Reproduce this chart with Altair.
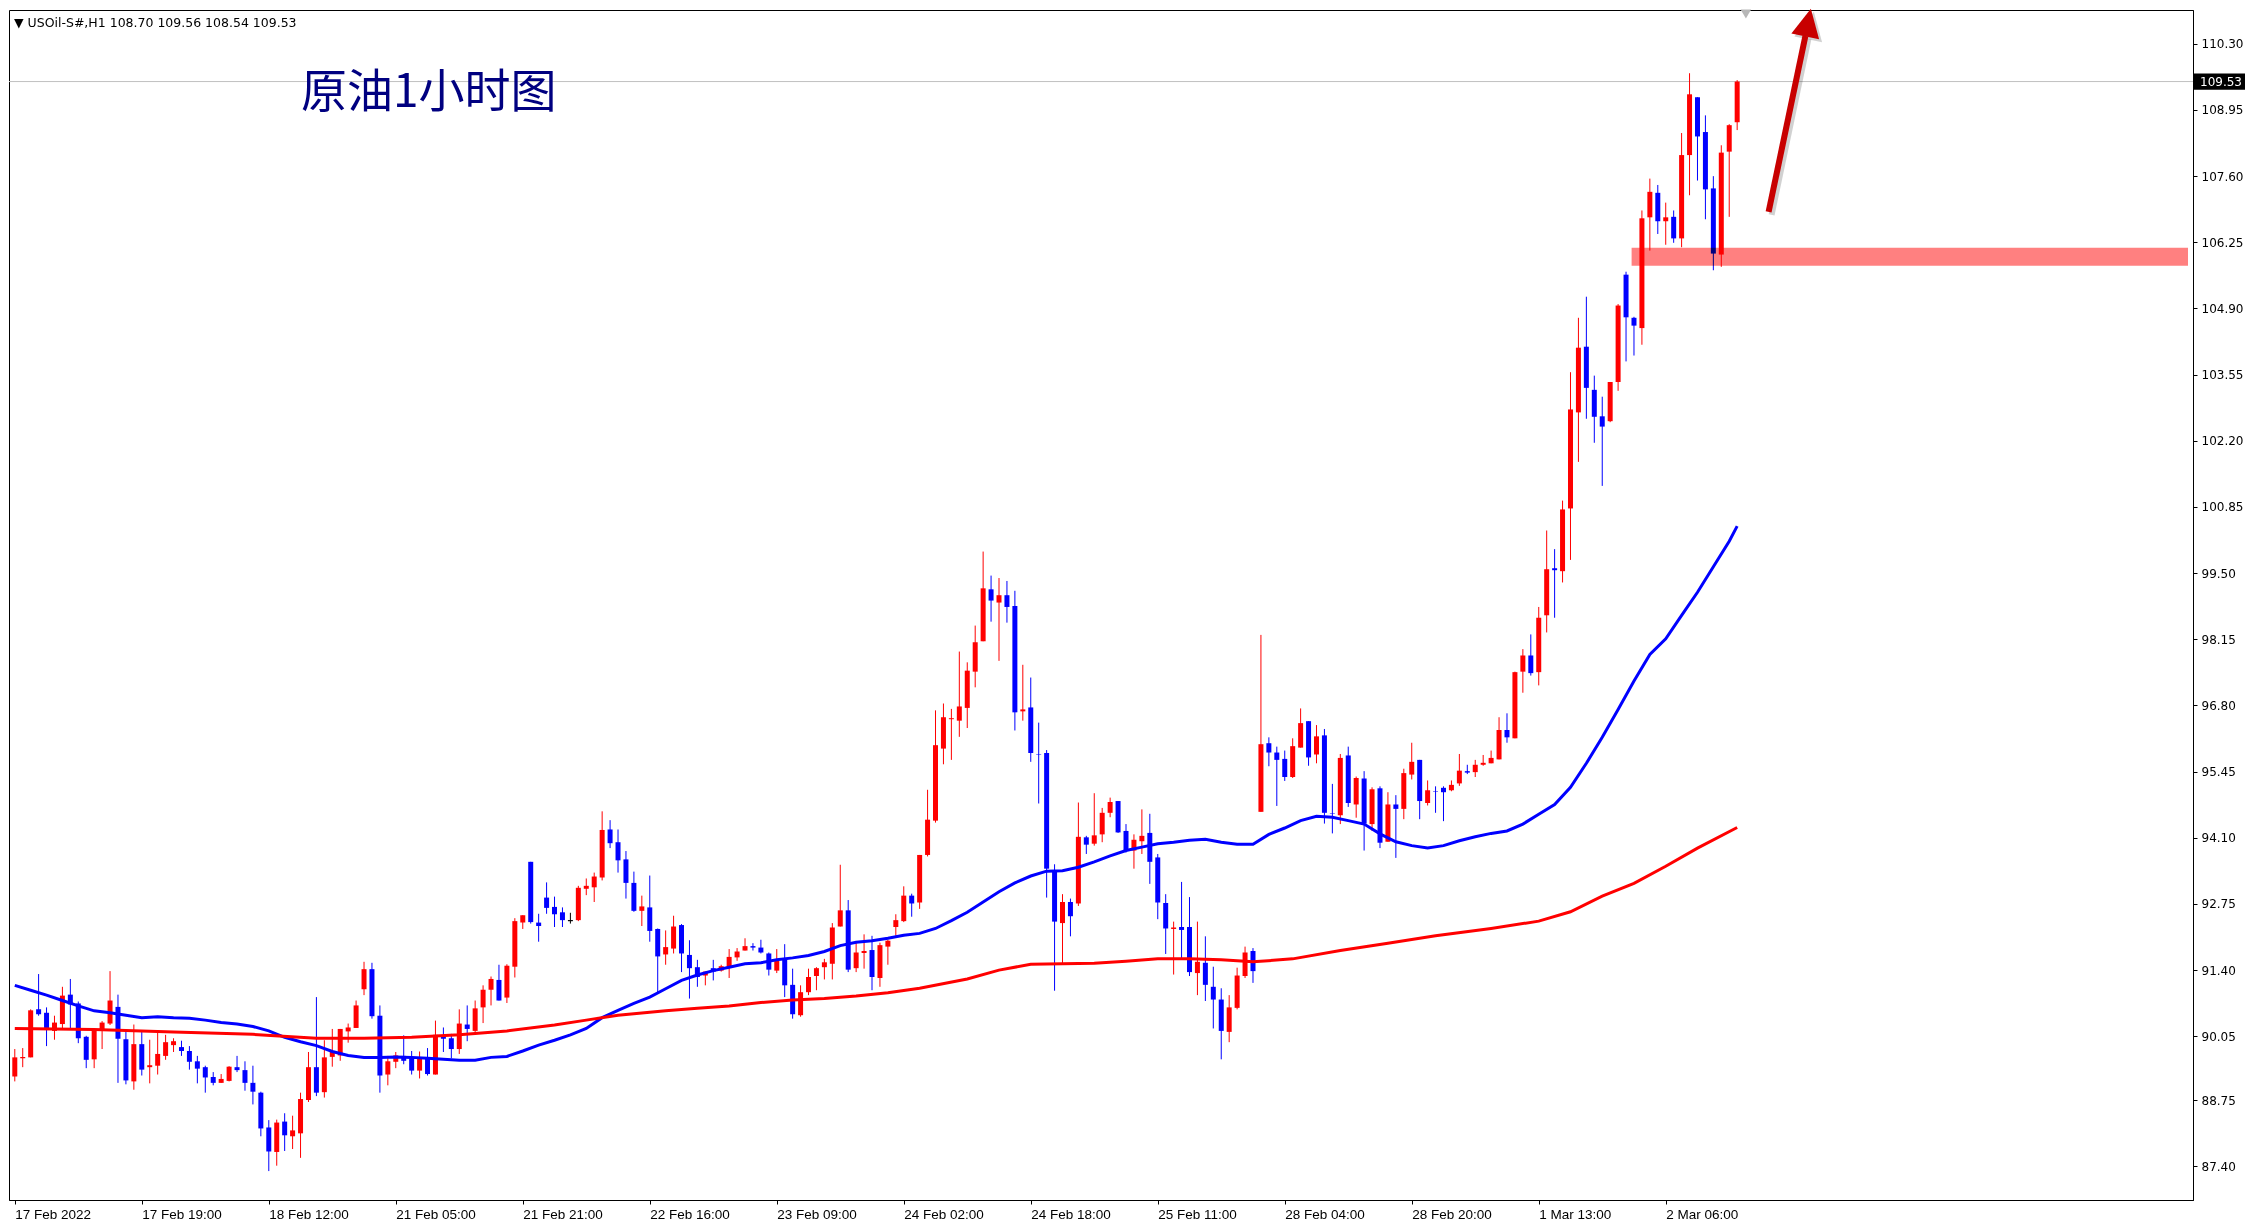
import altair as alt
import pandas as pd
import json

# ---------------- data ----------------
bar_open = [
    89.23, 89.60, 89.62, 90.60, 90.53, 90.16, 90.30, 90.90, 90.72, 90.04,
    89.58, 90.16, 90.31, 90.65, 89.99, 89.13, 89.89, 89.42, 89.45, 89.65,
    89.87, 89.83, 89.75, 89.54, 89.42, 89.22, 89.10, 89.14, 89.42, 89.36,
    89.10, 88.90, 88.19, 87.69, 88.31, 88.01, 88.07, 88.75, 89.42, 88.91,
    89.63, 89.66, 90.15, 90.22, 91.01, 91.42, 90.47, 89.27, 89.53, 89.65,
    89.60, 89.35, 89.62, 89.27, 90.06, 90.01, 89.79, 90.29, 90.16, 90.64,
    91.00, 91.20, 90.84, 91.47, 92.37, 93.61, 92.37, 92.88, 92.69, 92.58,
    92.41, 92.42, 93.06, 93.09, 93.29, 94.27, 94.01, 93.66, 93.18, 92.61,
    92.68, 92.24, 91.72, 91.84, 92.32, 91.71, 91.46, 91.29, 91.44, 91.39,
    91.46, 91.66, 91.80, 91.89, 91.86, 91.74, 91.39, 91.64, 91.10, 90.48,
    90.95, 91.28, 91.46, 91.53, 92.29, 92.62, 91.44, 91.75, 91.81, 91.24,
    91.88, 92.28, 92.40, 92.92, 92.78, 93.75, 94.45, 95.92, 96.52, 96.49,
    96.75, 97.49, 98.11, 99.17, 98.90, 99.05, 98.83, 96.68, 96.76, 95.81,
    95.83, 93.42, 92.36, 92.79, 92.76, 94.11, 93.98, 94.17, 94.61, 94.85,
    94.24, 93.84, 94.03, 94.20, 93.70, 92.77, 92.24, 92.28, 92.28, 91.34,
    91.55, 91.06, 90.80, 90.14, 90.63, 91.28, 91.79, 94.63, 96.03, 95.84,
    95.71, 95.34, 95.94, 96.48, 95.80, 96.19, 94.60, 94.56, 95.78, 94.78,
    95.31, 94.38, 95.11, 94.02, 94.78, 94.69, 95.39, 95.69, 94.81, 95.05,
    95.12, 95.07, 95.21, 95.46, 95.44, 95.59, 95.62, 95.70, 96.30, 96.13,
    97.49, 97.82, 97.48, 98.64, 99.60, 99.54, 100.82, 102.78, 104.12, 103.24,
    102.70, 102.60, 103.40, 105.59, 104.71, 104.50, 106.76, 107.26, 106.68, 106.77,
    106.33, 108.03, 109.21, 108.50, 107.35, 106.00, 108.10, 108.70,
]
bar_high = [
    89.79, 89.81, 90.60, 91.32, 90.64, 90.47, 91.06, 91.22, 90.76, 90.06,
    90.18, 90.36, 91.38, 90.90, 90.14, 90.29, 90.14, 89.98, 90.14, 90.08,
    90.01, 89.96, 89.85, 89.65, 89.45, 89.32, 89.28, 89.44, 89.65, 89.54,
    89.45, 88.92, 88.34, 88.35, 88.48, 88.43, 88.90, 89.73, 90.85, 89.97,
    90.20, 90.20, 90.31, 90.78, 91.57, 91.55, 90.68, 89.65, 89.73, 90.07,
    89.75, 89.74, 89.81, 90.37, 90.23, 90.10, 90.60, 90.68, 90.78, 91.09,
    91.27, 91.51, 91.52, 92.46, 92.52, 93.61, 92.55, 93.19, 92.90, 92.68,
    92.57, 93.12, 93.27, 93.39, 94.64, 94.46, 94.27, 93.83, 93.41, 92.92,
    93.33, 92.25, 92.21, 92.51, 92.34, 92.01, 91.61, 91.37, 91.61, 91.51,
    91.83, 91.85, 92.05, 91.95, 92.02, 91.76, 91.83, 91.93, 91.43, 91.09,
    91.43, 91.46, 91.63, 92.36, 93.55, 92.83, 91.97, 92.13, 92.10, 91.96,
    92.02, 92.54, 93.11, 92.96, 93.75, 95.08, 96.70, 96.84, 96.73, 97.90,
    97.68, 98.43, 99.94, 99.45, 99.40, 99.34, 99.14, 97.63, 97.37, 96.45,
    95.89, 93.56, 92.95, 92.86, 94.82, 94.14, 95.01, 94.71, 94.92, 94.85,
    94.38, 94.17, 94.68, 94.59, 93.77, 92.95, 92.39, 93.20, 92.89, 92.39,
    92.09, 91.47, 91.03, 90.89, 91.45, 91.88, 91.85, 98.24, 96.15, 95.96,
    95.88, 96.13, 96.74, 96.48, 96.40, 96.32, 95.20, 95.81, 95.96, 95.35,
    95.46, 95.13, 95.15, 95.03, 94.97, 95.51, 96.04, 95.69, 95.27, 95.15,
    95.15, 95.27, 95.81, 95.59, 95.69, 95.79, 95.88, 96.56, 96.64, 97.49,
    97.95, 98.25, 98.81, 100.37, 99.99, 100.98, 103.60, 104.71, 105.14, 103.53,
    103.10, 103.40, 104.99, 105.65, 104.73, 106.90, 107.55, 107.42, 107.06, 106.90,
    108.48, 109.70, 109.21, 108.84, 107.60, 108.23, 108.66, 109.56,
]
bar_low = [
    89.13, 89.42, 89.62, 90.47, 89.85, 89.98, 90.21, 90.21, 89.91, 89.40,
    89.40, 89.79, 90.28, 89.10, 89.07, 88.96, 89.25, 89.09, 89.27, 89.57,
    89.73, 89.65, 89.37, 89.09, 88.90, 89.05, 89.10, 89.13, 89.32, 88.94,
    88.66, 88.01, 87.30, 87.41, 87.71, 87.75, 87.57, 88.71, 88.83, 88.80,
    89.43, 89.55, 89.92, 90.22, 90.89, 90.41, 88.90, 89.05, 89.40, 89.48,
    89.27, 89.19, 89.25, 89.27, 89.73, 89.60, 89.69, 89.95, 90.11, 90.32,
    90.68, 90.78, 90.73, 91.25, 92.24, 92.35, 91.98, 92.55, 92.28, 92.28,
    92.35, 92.40, 92.93, 92.79, 93.23, 93.89, 93.39, 92.86, 92.59, 92.30,
    91.98, 90.95, 91.51, 91.74, 91.36, 90.82, 91.06, 91.09, 91.19, 91.37,
    91.24, 91.59, 91.80, 91.80, 91.74, 91.29, 91.34, 90.85, 90.41, 90.45,
    90.89, 90.99, 91.21, 91.21, 92.29, 91.36, 91.36, 91.43, 90.99, 91.06,
    91.51, 92.10, 92.38, 92.49, 92.65, 93.72, 94.41, 95.60, 95.69, 96.16,
    96.34, 97.17, 98.11, 98.51, 97.71, 98.49, 96.29, 96.49, 95.65, 94.80,
    92.88, 90.98, 91.54, 92.09, 92.71, 93.77, 93.94, 94.01, 94.52, 94.20,
    93.80, 93.47, 93.77, 93.16, 92.44, 91.73, 91.31, 91.64, 91.28, 90.89,
    90.77, 90.21, 89.58, 89.93, 90.60, 91.24, 91.14, 94.63, 95.56, 94.75,
    95.26, 95.32, 95.94, 95.57, 95.62, 94.39, 94.19, 94.38, 94.73, 94.51,
    93.84, 94.24, 93.89, 94.02, 93.69, 94.48, 95.29, 94.48, 94.76, 94.61,
    94.44, 95.05, 95.16, 95.40, 95.34, 95.57, 95.62, 95.70, 96.04, 96.13,
    97.06, 97.41, 97.21, 98.29, 98.59, 99.31, 99.77, 101.77, 102.65, 102.16,
    101.28, 102.58, 103.22, 103.82, 103.94, 104.16, 106.08, 106.42, 106.20, 106.24,
    106.15, 107.21, 107.51, 106.72, 105.68, 105.75, 106.77, 108.54,
]
bar_close = [
    89.62, 89.63, 90.58, 90.50, 90.22, 90.33, 90.88, 90.70, 90.01, 89.57,
    90.18, 90.33, 90.78, 90.00, 89.15, 89.89, 89.37, 89.46, 89.69, 89.93,
    89.95, 89.75, 89.53, 89.39, 89.21, 89.10, 89.18, 89.43, 89.36, 89.10,
    88.92, 88.17, 87.70, 88.29, 88.03, 88.13, 88.77, 89.42, 88.90, 89.62,
    89.73, 90.20, 90.23, 90.68, 91.42, 90.46, 89.25, 89.54, 89.66, 89.55,
    89.35, 89.59, 89.28, 90.08, 90.00, 89.79, 90.31, 90.20, 90.62, 91.00,
    91.22, 90.78, 91.49, 92.40, 92.52, 92.38, 92.30, 92.67, 92.54, 92.42,
    92.41, 93.08, 93.12, 93.31, 94.26, 93.99, 93.64, 93.18, 92.61, 92.70,
    92.20, 91.68, 91.87, 92.29, 91.74, 91.44, 91.26, 91.37, 91.37, 91.48,
    91.67, 91.78, 91.89, 91.86, 91.76, 91.41, 91.59, 91.09, 90.50, 90.95,
    91.26, 91.44, 91.56, 92.27, 92.62, 91.41, 91.76, 91.79, 91.26, 91.91,
    92.00, 92.42, 92.92, 92.76, 93.75, 94.47, 95.99, 96.56, 96.54, 96.78,
    97.51, 98.09, 99.19, 98.94, 99.05, 98.81, 96.66, 96.72, 95.83, 95.80,
    93.47, 92.39, 92.79, 92.50, 94.12, 93.96, 94.15, 94.61, 94.83, 94.21,
    93.84, 94.06, 94.14, 93.61, 92.78, 92.25, 92.27, 92.22, 91.36, 91.57,
    91.10, 90.80, 90.16, 90.64, 91.29, 91.76, 91.38, 96.01, 95.84, 95.69,
    95.34, 95.97, 96.44, 95.74, 96.17, 94.61, 94.59, 95.73, 94.81, 95.32,
    94.39, 95.09, 94.00, 94.78, 94.69, 95.42, 95.65, 94.85, 95.07, 95.04,
    95.03, 95.18, 95.47, 95.43, 95.59, 95.63, 95.73, 96.30, 96.15, 97.48,
    97.82, 97.46, 98.59, 99.58, 99.56, 100.80, 102.84, 104.10, 103.28, 102.69,
    102.49, 103.40, 104.96, 104.72, 104.55, 106.74, 107.28, 106.68, 106.76, 106.33,
    108.03, 109.27, 108.41, 107.33, 106.02, 108.08, 108.64, 109.53,
]
bar_index = list(range(len(bar_open)))

# moving averages (bar position, price)
ma_fast_x = [0, 2, 4, 6, 8, 10, 12, 14, 16, 18, 20, 22, 24, 26, 28, 30, 32, 34, 36, 38,
             40, 42, 44, 46, 48, 50, 52, 54, 56, 58, 60, 62, 64, 66, 68, 70, 72, 74, 76, 78,
             80, 82, 84, 86, 88, 90, 92, 94, 96, 98, 100, 102, 104, 106, 108, 110, 112, 114,
             116, 118, 120, 122, 124, 126, 128, 130, 132, 134, 136, 138, 140, 142, 144, 146,
             148, 150, 152, 154, 156, 158, 160, 162, 164, 166, 168, 170, 172, 174, 176, 178,
             180, 182, 184, 186, 188, 190, 192, 194, 196, 198, 200, 202, 204, 206, 208, 210,
             212, 214, 216, 217]
ma_fast_y = [91.09, 90.99, 90.89, 90.78, 90.67, 90.57, 90.53, 90.48, 90.43, 90.45,
             90.43, 90.42, 90.38, 90.33, 90.30, 90.25, 90.16, 90.03, 89.94, 89.86,
             89.74, 89.66, 89.62, 89.62, 89.63, 89.62, 89.60, 89.58, 89.56, 89.56,
             89.62, 89.64, 89.75, 89.87, 89.97, 90.08, 90.21, 90.43, 90.58, 90.72,
             90.85, 91.02, 91.19, 91.30, 91.39, 91.46, 91.53, 91.55, 91.61, 91.65,
             91.70, 91.78, 91.90, 91.97, 92.00, 92.05, 92.11, 92.15, 92.25, 92.41,
             92.58, 92.79, 93.00, 93.18, 93.32, 93.42, 93.43, 93.50, 93.61, 93.73,
             93.84, 93.91, 93.98, 94.01, 94.05, 94.07, 94.01, 93.97, 93.97, 94.17,
             94.30, 94.45, 94.54, 94.52, 94.45, 94.38, 94.18, 94.02, 93.94, 93.89,
             93.94, 94.04, 94.12, 94.19, 94.24, 94.38, 94.58, 94.78, 95.13, 95.62,
             96.15, 96.72, 97.30, 97.84, 98.16, 98.64, 99.11, 99.63, 100.15, 100.46]
ma_slow_x = [0, 10, 20, 30, 38, 44, 50, 56, 62, 68, 72, 76, 82, 86, 90, 94, 98, 102, 106,
             110, 114, 120, 124, 128, 132, 136, 140, 144, 148, 152, 156, 161, 167, 173, 179,
             186, 192, 196, 200, 204, 208, 212, 217]
ma_slow_y = [90.21, 90.19, 90.14, 90.09, 90.01, 90.01, 90.03, 90.08, 90.16, 90.28, 90.38,
             90.48, 90.57, 90.62, 90.67, 90.74, 90.79, 90.82, 90.87, 90.94, 91.03, 91.22,
             91.40, 91.52, 91.53, 91.54, 91.58, 91.63, 91.63, 91.61, 91.57, 91.63, 91.80,
             91.95, 92.10, 92.25, 92.40, 92.59, 92.91, 93.17, 93.52, 93.89, 94.31]

x_tick_values = [0, 16, 32, 48, 64, 80, 96, 112, 128, 144, 160, 176, 192, 208]
x_tick_labels = ["17 Feb 2022", "17 Feb 19:00", "18 Feb 12:00", "21 Feb 05:00",
                 "21 Feb 21:00", "22 Feb 16:00", "23 Feb 09:00", "24 Feb 02:00",
                 "24 Feb 18:00", "25 Feb 11:00", "28 Feb 04:00", "28 Feb 20:00",
                 "1 Mar 13:00", "2 Mar 06:00"]
y_tick_values = [110.30, 108.95, 107.60, 106.25, 104.90, 103.55, 102.20, 100.85, 99.50,
                 98.15, 96.80, 95.45, 94.10, 92.75, 91.40, 90.05, 88.75, 87.40]

zone_x = [203.7, 273.8]
zone_y = [105.77, 106.14]
arrow_x = [220.96, 225.6]
arrow_y = [106.87, 110.46]
arrow_head_x = [225.93]
arrow_head_y = [110.735]
shift_marker_x = [218.1]
last_price = [109.53]
header_text = ["\u25bc USOil-S#,H1  108.70 109.56 108.54 109.53"]
title_text = ["原油1小时图"]

# ---------------- chart ----------------
W, H = 2184, 1190
X_DOMAIN = [-0.1, 273.8]
Y_DOMAIN = [86.71, 110.99]

xscale = alt.Scale(domain=X_DOMAIN, nice=False, zero=False)
yscale = alt.Scale(domain=Y_DOMAIN, nice=False, zero=False)

labels_js = json.dumps(x_tick_labels)
values_js = json.dumps(x_tick_values)
xaxis = alt.Axis(values=x_tick_values,
                 labelExpr=f"{labels_js}[indexof({values_js}, datum.value)]",
                 labelAlign="left", labelFont="Liberation Sans", labelFontSize=13.5,
                 labelColor="black", tickColor="black", tickSize=4, domainColor="black",
                 grid=False, labelPadding=3, labelFlush=False, labelOverlap=False)
yaxis = alt.Axis(orient="right", values=y_tick_values, format=".2f",
                 labelFont="DejaVu Sans", labelFontSize=12, labelColor="black",
                 tickColor="black", tickSize=4, domainColor="black", grid=False,
                 labelPadding=4, labelOverlap=False)


def X(field):
    return alt.X(f"{field}:Q", scale=xscale, axis=xaxis, title=None)


def Y(field):
    return alt.Y(f"{field}:Q", scale=yscale, axis=yaxis, title=None)


candles = pd.DataFrame({"i": bar_index, "o": bar_open, "h": bar_high,
                        "l": bar_low, "c": bar_close})
dir_expr = "datum.c > datum.o ? 'up' : (datum.c < datum.o ? 'down' : 'flat')"
color_enc = alt.Color("dir:N", scale=alt.Scale(domain=["up", "down", "flat"],
                                              range=["#FF0000", "#0000FF", "#000000"]),
                      legend=None)

price_line = alt.Chart(pd.DataFrame({"p": last_price})).mark_rule(
    color="#C0C0C0", strokeWidth=1).encode(y=Y("p"))

wicks = alt.Chart(candles).transform_calculate(dir=dir_expr).mark_rule(
    strokeWidth=1).encode(x=X("i"), y=Y("l"), y2=alt.Y2("h:Q"), color=color_enc)

bodies = alt.Chart(candles).transform_calculate(
    dir=dir_expr,
    bot="datum.o == datum.c ? datum.o - 0.012 : min(datum.o, datum.c)",
    top="datum.o == datum.c ? datum.o + 0.012 : max(datum.o, datum.c)",
).mark_bar(size=5).encode(x=X("i"), y=Y("bot"), y2=alt.Y2("top:Q"), color=color_enc)

ma_fast = alt.Chart(pd.DataFrame({"i": ma_fast_x, "p": ma_fast_y})).mark_line(
    color="#0000FF", strokeWidth=3).encode(x=X("i"), y=Y("p"))
ma_slow = alt.Chart(pd.DataFrame({"i": ma_slow_x, "p": ma_slow_y})).mark_line(
    color="#FF0000", strokeWidth=3).encode(x=X("i"), y=Y("p"))

zone = alt.Chart(pd.DataFrame({"x1": [zone_x[0]], "x2": [zone_x[1]],
                               "y1": [zone_y[0]], "y2": [zone_y[1]]})).mark_rect(
    color="#FF8080", blend="multiply").encode(
    x=X("x1"), x2=alt.X2("x2:Q"), y=Y("y1"), y2=alt.Y2("y2:Q"))

arrow_df = pd.DataFrame({"x1": [arrow_x[0]], "x2": [arrow_x[1]],
                         "y1": [arrow_y[0]], "y2": [arrow_y[1]]})
head_df = pd.DataFrame({"i": arrow_head_x, "p": arrow_head_y})
head_shape = "M0,-1L1,1L-1,1Z"
arrow_shadow = alt.Chart(arrow_df).mark_rule(
    color="#000000", opacity=0.18, strokeWidth=6, xOffset=3, yOffset=3,
    x2Offset=3, y2Offset=3).encode(x=X("x1"), x2=alt.X2("x2:Q"), y=Y("y1"),
                                   y2=alt.Y2("y2:Q"))
head_shadow = alt.Chart(head_df).mark_point(
    shape=head_shape, filled=True, color="#000000", opacity=0.18, size=800,
    angle=11.5, xOffset=3, yOffset=3, strokeWidth=0).encode(x=X("i"), y=Y("p"))
arrow_shaft = alt.Chart(arrow_df).mark_rule(
    color="#C80000", strokeWidth=6).encode(x=X("x1"), x2=alt.X2("x2:Q"), y=Y("y1"),
                                           y2=alt.Y2("y2:Q"))
arrow_head = alt.Chart(head_df).mark_point(
    shape=head_shape, filled=True, color="#C80000", opacity=1, size=800,
    angle=11.5, strokeWidth=0).encode(x=X("i"), y=Y("p"))

shift_marker = alt.Chart(pd.DataFrame({"i": shift_marker_x})).mark_point(
    shape="triangle-down", filled=True, color="#B8B8B8", opacity=1, size=110).encode(
    x=X("i"), y=alt.value(4))

header = alt.Chart(pd.DataFrame({"t": header_text})).mark_text(
    align="left", baseline="middle", font="DejaVu Sans", fontSize=12.5,
    color="black").encode(x=alt.value(5), y=alt.value(13), text="t:N")

title = alt.Chart(pd.DataFrame({"t": title_text})).mark_text(
    align="left", baseline="middle", font="Noto Sans CJK SC", fontSize=46,
    color="#000080").encode(x=alt.value(292), y=alt.value(83), text="t:N")

price_box = alt.Chart(pd.DataFrame({"p": last_price})).transform_calculate(
    p1="datum.p - 0.165", p2="datum.p + 0.165").mark_rect(color="black").encode(
    x=alt.value(W + 1), x2=alt.value(W + 52), y=Y("p1"), y2=alt.Y2("p2:Q"))
price_text = alt.Chart(pd.DataFrame({"p": last_price})).mark_text(
    align="left", baseline="middle", font="DejaVu Sans", fontSize=12,
    color="white").encode(x=alt.value(W + 7), y=Y("p"),
                          text=alt.Text("p:Q", format=".2f"))

chart = alt.layer(
    price_line, wicks, bodies, ma_fast, ma_slow, zone,
    arrow_shadow, head_shadow, arrow_shaft, arrow_head,
    shift_marker, header, title, price_box, price_text,
).properties(width=W, height=H, padding=0, background="white").configure_view(
    stroke="black", strokeWidth=1)

chart.save("out.html", embed_options={"renderer": "svg", "actions": False})
